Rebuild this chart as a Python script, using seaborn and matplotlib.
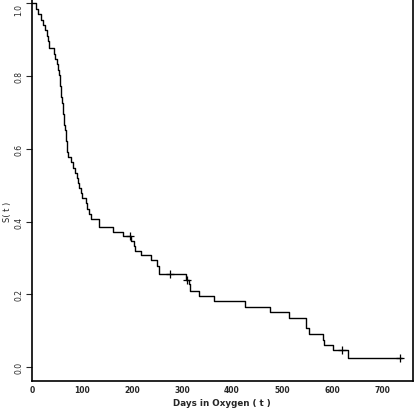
import numpy as np
import pandas as pd
import matplotlib
matplotlib.use("Agg")
import matplotlib.pyplot as plt
import seaborn as sns

# Kaplan-Meier estimate: time of each drop and S(t) after it
step_times = [0, 8, 12, 17, 21, 26, 29, 31, 33, 43, 46, 49, 51, 53, 55, 56, 57, 58,
              59, 61, 62, 63, 64, 66, 67, 68, 69, 70, 71, 77, 82, 85, 90, 92, 94, 97,
              100, 107, 110, 114, 117, 134, 162, 181, 198, 203, 205, 218, 237, 249,
              253, 308, 313, 316, 334, 363, 426, 476, 514, 547, 553, 581, 584, 601,
              631, 739]
step_surv = [1.000, 0.985, 0.970, 0.955, 0.941, 0.926, 0.911, 0.896, 0.876, 0.861,
             0.846, 0.832, 0.817, 0.802, 0.787, 0.772, 0.757, 0.742, 0.727, 0.712,
             0.697, 0.682, 0.667, 0.652, 0.637, 0.622, 0.607, 0.592, 0.577, 0.563,
             0.548, 0.535, 0.520, 0.506, 0.492, 0.478, 0.464, 0.450, 0.436, 0.422,
             0.408, 0.385, 0.372, 0.361, 0.346, 0.332, 0.320, 0.308, 0.295, 0.277,
             0.256, 0.240, 0.228, 0.210, 0.195, 0.181, 0.166, 0.151, 0.135, 0.107,
             0.091, 0.076, 0.061, 0.047, 0.024, 0.024]

# censored observations
censor_times = [195, 275, 310, 620, 735]
censor_surv = [0.361, 0.256, 0.240, 0.047, 0.024]

x_ticks = [0, 100, 200, 300, 400, 500, 600, 700]
y_ticks = [0.0, 0.2, 0.4, 0.6, 0.8, 1.0]

km = pd.DataFrame({"t": step_times, "S": step_surv})
cens = pd.DataFrame({"t": censor_times, "S": censor_surv})

sns.set_style("white")
fig = plt.figure(figsize=(4.2, 4.1), dpi=100)
ax = fig.add_axes([32 / 420, 28 / 410, 381 / 420, 382 / 410])

sns.lineplot(data=km, x="t", y="S", estimator=None, sort=False,
             drawstyle="steps-post", color="black", linewidth=1.0, ax=ax)
sns.scatterplot(data=cens, x="t", y="S", marker="+", s=30, color="black",
                linewidth=0.9, ax=ax)

ax.set_xlim(0, 762)
ax.set_ylim(-0.038, 1.012)
ax.set_xticks(x_ticks)
ax.set_xticklabels([str(v) for v in x_ticks], fontsize=5.5, fontweight="bold")
ax.set_yticks(y_ticks)
ax.set_yticklabels([f"{v:.1f}" for v in y_ticks], fontsize=5.5, rotation=90, va="center")
# keep the top label inside the figure
ax.get_yticklabels()[-1].set_va("top")
ax.tick_params(axis="y", direction="out", length=4, width=0.8, pad=2, left=True)
ax.tick_params(axis="x", length=0, pad=3)

for side in ["left", "bottom", "right"]:
    ax.spines[side].set_color("black")
    ax.spines[side].set_linewidth(1.2)
ax.spines["top"].set_visible(False)

ax.set_xlabel("Days in Oxygen ( t )", fontsize=6.3, fontweight="bold")
ax.xaxis.set_label_coords(0.499, -0.057, transform=ax.transAxes)
ax.xaxis.label.set_va("center")
ax.set_ylabel("S( t )", fontsize=6)
ax.yaxis.set_label_coords(-0.063, 0.445, transform=ax.transAxes)
ax.yaxis.label.set_va("center")

fig.savefig("out.png", dpi=100)
